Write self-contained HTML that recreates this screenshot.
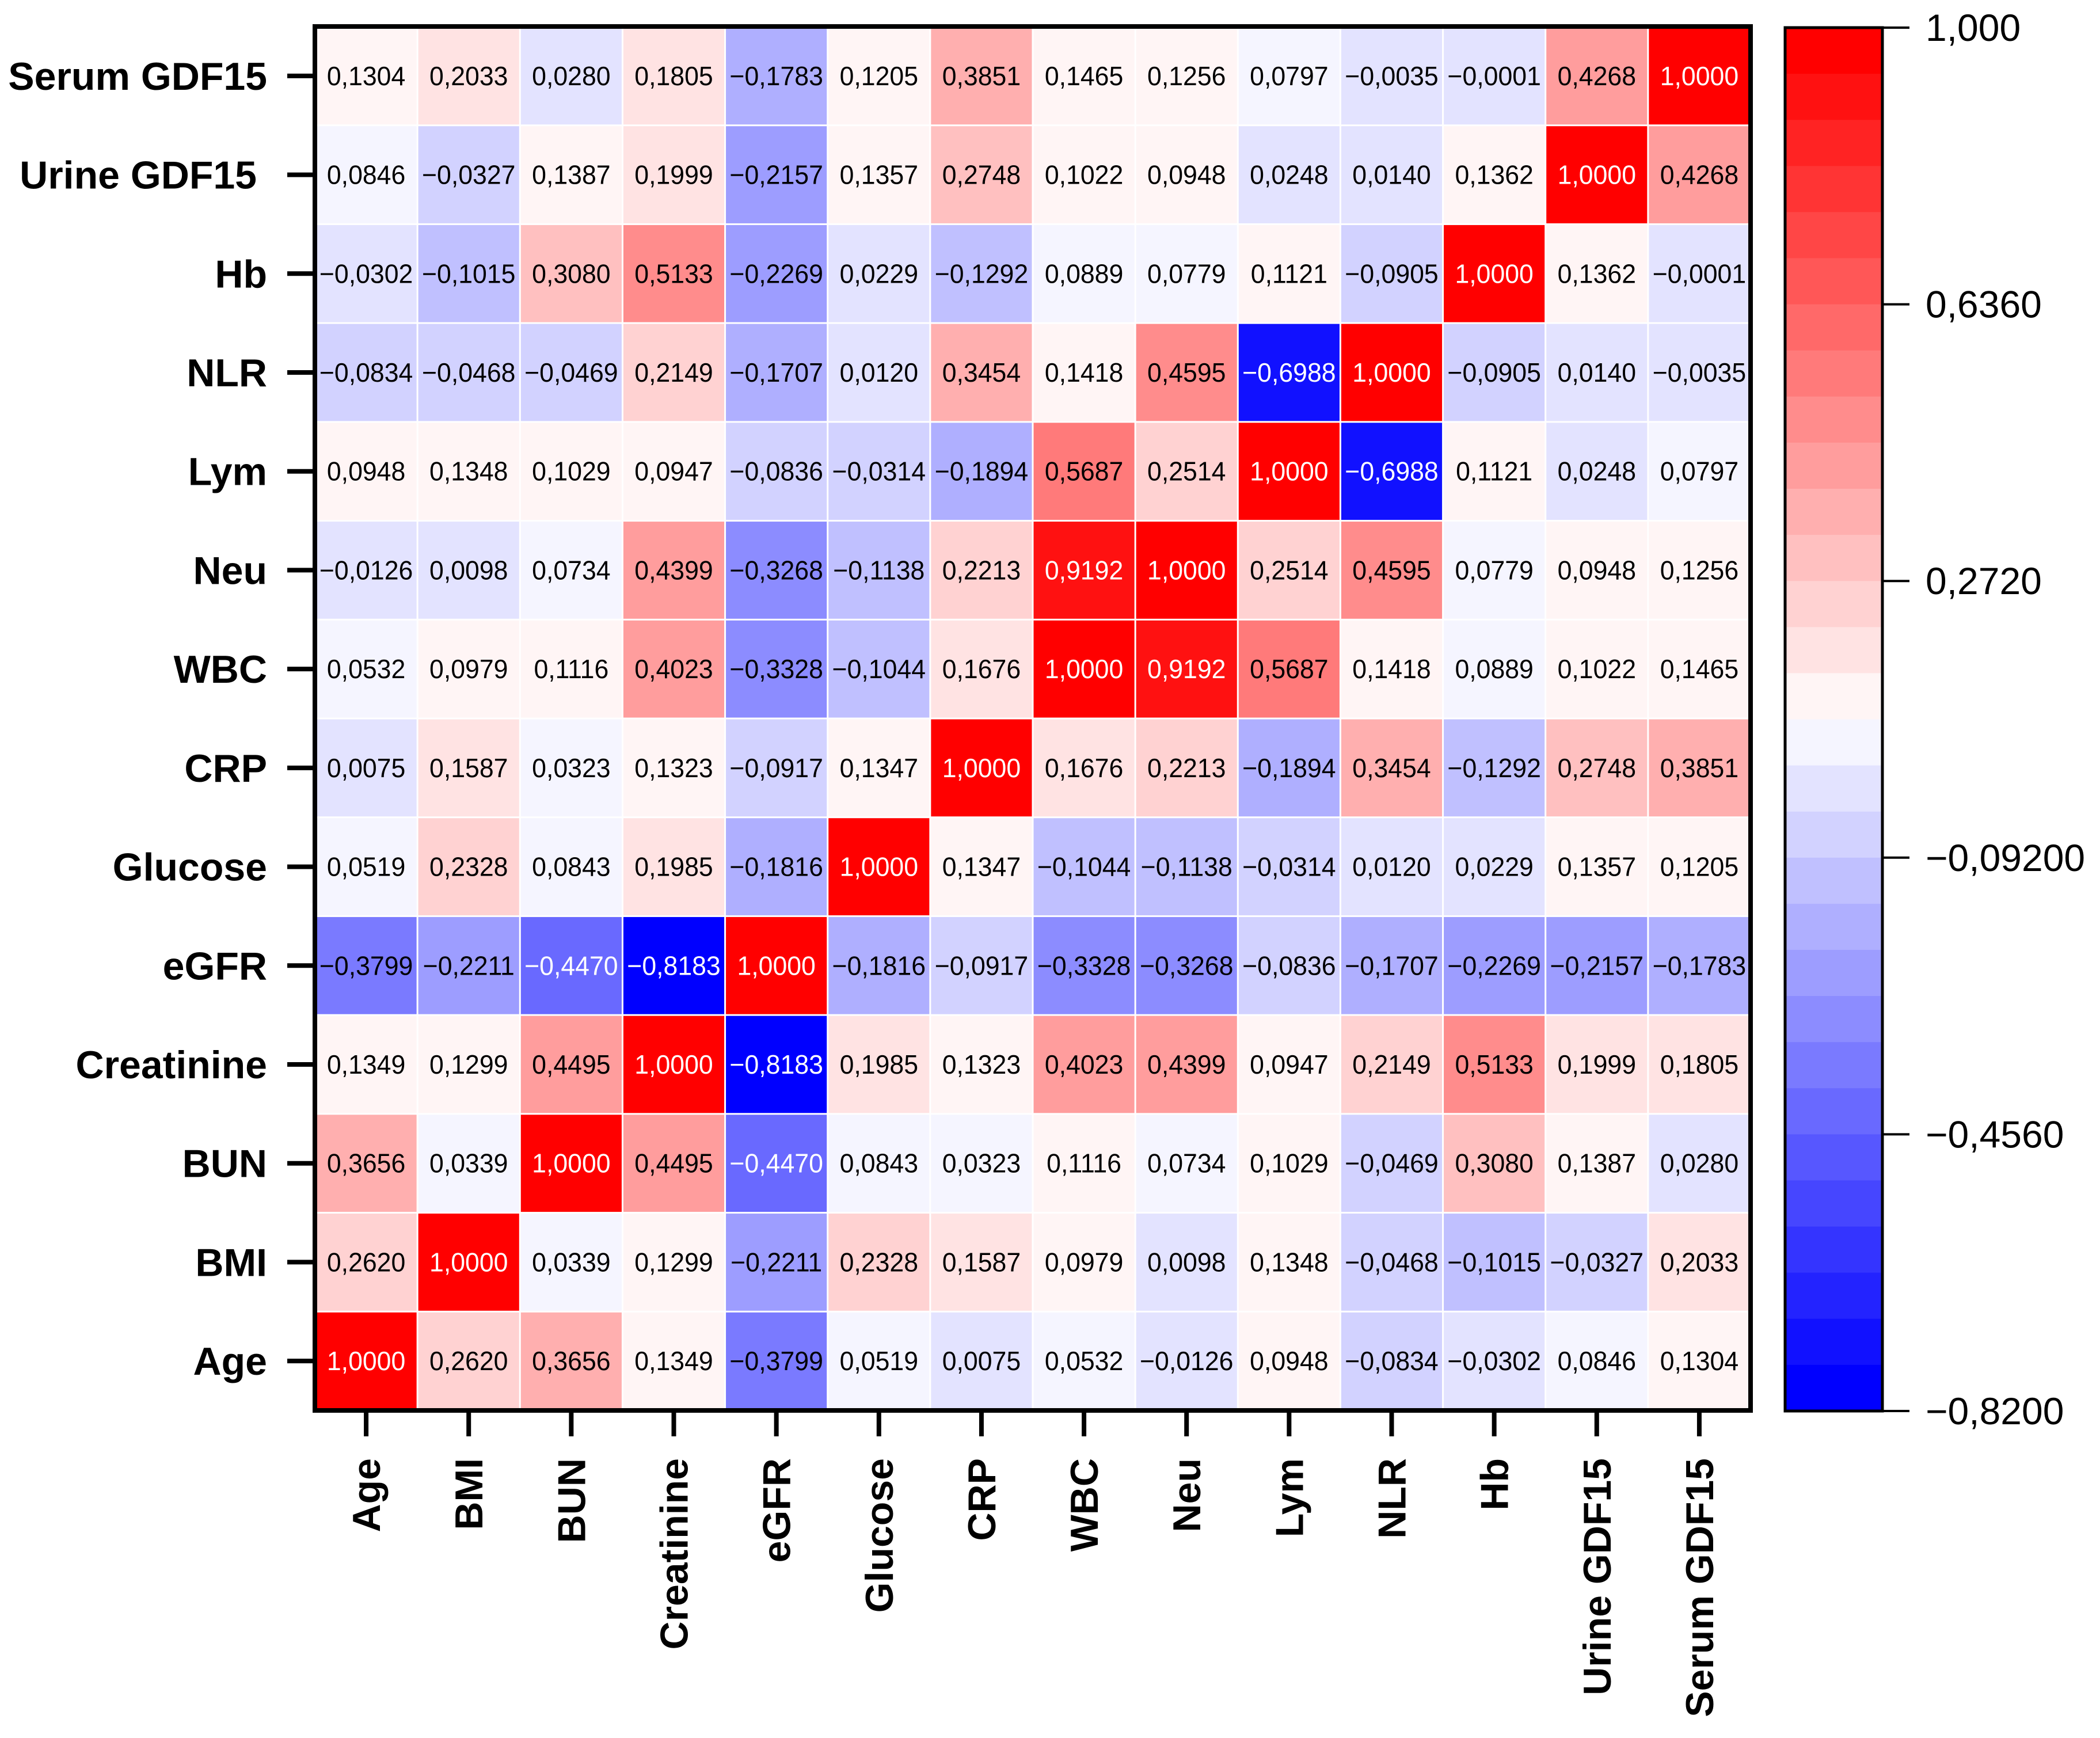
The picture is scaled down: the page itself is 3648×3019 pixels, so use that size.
<!DOCTYPE html>
<html><head><meta charset="utf-8"><style>
html,body{margin:0;padding:0;background:#fff;}
svg{display:block;}
</style></head><body>
<svg id="chart" width="3648" height="3019" viewBox="0 0 3648 3019" xmlns="http://www.w3.org/2000/svg" font-family="'Liberation Sans', Arial, sans-serif"></svg>
<script>
const variables = ["Age","BMI","BUN","Creatinine","eGFR","Glucose","CRP","WBC","Neu","Lym","NLR","Hb","Urine GDF15","Serum GDF15"];
const rowAge = [1,0.2620,0.3656,0.1349,-0.3799,0.0519,0.0075,0.0532,-0.0126,0.0948,-0.0834,-0.0302,0.0846,0.1304];
const rowBMI = [0.2620,1,0.0339,0.1299,-0.2211,0.2328,0.1587,0.0979,0.0098,0.1348,-0.0468,-0.1015,-0.0327,0.2033];
const rowBUN = [0.3656,0.0339,1,0.4495,-0.4470,0.0843,0.0323,0.1116,0.0734,0.1029,-0.0469,0.3080,0.1387,0.0280];
const rowCreatinine = [0.1349,0.1299,0.4495,1,-0.8183,0.1985,0.1323,0.4023,0.4399,0.0947,0.2149,0.5133,0.1999,0.1805];
const rowEGFR = [-0.3799,-0.2211,-0.4470,-0.8183,1,-0.1816,-0.0917,-0.3328,-0.3268,-0.0836,-0.1707,-0.2269,-0.2157,-0.1783];
const rowGlucose = [0.0519,0.2328,0.0843,0.1985,-0.1816,1,0.1347,-0.1044,-0.1138,-0.0314,0.0120,0.0229,0.1357,0.1205];
const rowCRP = [0.0075,0.1587,0.0323,0.1323,-0.0917,0.1347,1,0.1676,0.2213,-0.1894,0.3454,-0.1292,0.2748,0.3851];
const rowWBC = [0.0532,0.0979,0.1116,0.4023,-0.3328,-0.1044,0.1676,1,0.9192,0.5687,0.1418,0.0889,0.1022,0.1465];
const rowNeu = [-0.0126,0.0098,0.0734,0.4399,-0.3268,-0.1138,0.2213,0.9192,1,0.2514,0.4595,0.0779,0.0948,0.1256];
const rowLym = [0.0948,0.1348,0.1029,0.0947,-0.0836,-0.0314,-0.1894,0.5687,0.2514,1,-0.6988,0.1121,0.0248,0.0797];
const rowNLR = [-0.0834,-0.0468,-0.0469,0.2149,-0.1707,0.0120,0.3454,0.1418,0.4595,-0.6988,1,-0.0905,0.0140,-0.0035];
const rowHb = [-0.0302,-0.1015,0.3080,0.5133,-0.2269,0.0229,-0.1292,0.0889,0.0779,0.1121,-0.0905,1,0.1362,-0.0001];
const rowUrine = [0.0846,-0.0327,0.1387,0.1999,-0.2157,0.1357,0.2748,0.1022,0.0948,0.0248,0.0140,0.1362,1,0.4268];
const rowSerum = [0.1304,0.2033,0.0280,0.1805,-0.1783,0.1205,0.3851,0.1465,0.1256,0.0797,-0.0035,-0.0001,0.4268,1];
const matrix = [rowAge,rowBMI,rowBUN,rowCreatinine,rowEGFR,rowGlucose,rowCRP,rowWBC,rowNeu,rowLym,rowNLR,rowHb,rowUrine,rowSerum];
const scaleTicks = [1.0, 0.636, 0.272, -0.092, -0.456, -0.82];
const scaleTickLabels = ["1,000","0,6360","0,2720","\u22120,09200","\u22120,4560","\u22120,8200"];
const vMax = 1.0, vMin = -0.82, nBands = 30;

const NS = "http://www.w3.org/2000/svg";
const svg = document.getElementById('chart');
function mk(tag, attrs, parent){
  const e = document.createElementNS(NS, tag);
  for (const k in attrs) e.setAttribute(k, attrs[k]);
  (parent||svg).appendChild(e);
  return e;
}
const PL = 547, PR = 3041, PT = 46, PB = 2450;
const n = variables.length;
const cw = (PR-PL)/n, ch = (PB-PT)/n;
const xPos = j => PL + j*cw;
const yPos = i => PT + (n-1-i)*ch;
function band(v){ let b = Math.floor((vMax - v)/(vMax - vMin)*nBands); return Math.max(0, Math.min(nBands-1, b)); }
function bandColor(b){
  if (b <= 14){ const t = Math.round(255*(b/14.6)); return `rgb(255,${t},${t})`; }
  const t = Math.round(255*((29-b)/14.6)); return `rgb(${t},${t},255)`;
}
function fmt(v){ const s = Math.abs(v).toFixed(4).replace('.',','); return (v<0?'\u2212':'')+s; }

const cells = mk('g', {});


for (let i=0;i<n;i++){
  for (let j=0;j<n;j++){
    const v = matrix[i][j];
    const r = mk('rect', {x: xPos(j)+1.5, y: yPos(i)+1.5, width: cw-3, height: ch-3, fill: bandColor(band(v))}, cells);
    
    
    const cx = xPos(j)+cw/2, cy = yPos(i)+ch/2 + 16;
    const t = mk('text', {transform:`translate(${cx},${cy}) scale(0.97,1)`, 'text-anchor':'middle', 'font-size':46, fill: (v>0.85||v<-0.4)?'#fff':'#000'}, cells);
    t.textContent = fmt(v);
    
    
  }
}
const frame = mk('rect', {x:PL, y:PT, width:PR-PL, height:PB-PT, fill:'none', stroke:'#000', 'stroke-width':8});



for (let i=0;i<n;i++){
  const y = yPos(i)+ch/2;
  const tk = mk('line', {x1:499, x2:PL, y1:y, y2:y, stroke:'#000', 'stroke-width':8});
  
  
  const lb = mk('text', {x: variables[i]==="Urine GDF15"?446:464, y: y+24, 'text-anchor':'end', 'font-size':68, 'font-weight':'bold'});
  lb.textContent = variables[i];
  
  
}
for (let j=0;j<n;j++){
  const x = xPos(j)+cw/2;
  const tk = mk('line', {x1:x, x2:x, y1:PB, y2:2495, stroke:'#000', 'stroke-width':8});
  
  
  const lb = mk('text', {transform:`translate(${x+24},2533) rotate(-90)`, 'text-anchor':'end', 'font-size':68, 'font-weight':'bold'});
  lb.textContent = variables[j];
  
  
}

// color bar
const CL = 3101, CR = 3270, CT = 48, CB = 2451;
const cb = mk('g', {});


const bh = (CB-CT)/nBands;
for (let b=0;b<nBands;b++){
  const r = mk('rect', {x:CL, y:CT+b*bh, width:CR-CL, height:bh+0.5, fill:bandColor(b)}, cb);
  
  
}
const cf = mk('rect', {x:CL, y:CT, width:CR-CL, height:CB-CT, fill:'none', stroke:'#000', 'stroke-width':5}, cb);


const cy = v => CT + (vMax - v)/(vMax - vMin)*(CB-CT);
scaleTicks.forEach((v,k)=>{
  const y = cy(v);
  const l = mk('line', {x1:CR, x2:3317, y1:y, y2:y, stroke:'#000', 'stroke-width':4}, cb);
  
  
  const t = mk('text', {x:3345, y:y+23, 'font-size':66}, cb);
  t.textContent = scaleTickLabels[k];
  
  
});
</script>
</body></html>
